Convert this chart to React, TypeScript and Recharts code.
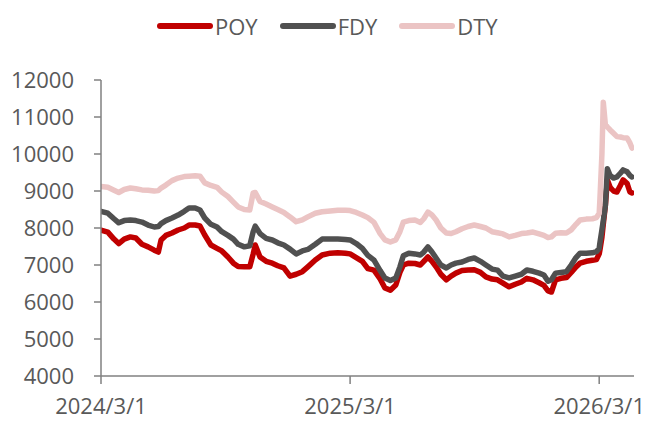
import React from 'react';
import { LineChart, Line, XAxis, YAxis, Legend } from 'recharts';

const dates = [
  '2024/3/1', '2024/3/11', '2024/3/20', '2024/3/27', '2024/4/4', '2024/4/13', '2024/4/21', '2024/4/30',
  '2024/5/9', '2024/5/18', '2024/5/24', '2024/5/28', '2024/6/4', '2024/6/13', '2024/6/22', '2024/7/1',
  '2024/7/8', '2024/7/17', '2024/7/24', '2024/7/31', '2024/8/9', '2024/8/18', '2024/8/25', '2024/9/3',
  '2024/9/11', '2024/9/18', '2024/9/27', '2024/10/5', '2024/10/10', '2024/10/13', '2024/10/20', '2024/10/29',
  '2024/11/7', '2024/11/15', '2024/11/24', '2024/12/3', '2024/12/12', '2024/12/21', '2024/12/29', '2025/1/9',
  '2025/1/19', '2025/1/31', '2025/2/11', '2025/2/22', '2025/3/1', '2025/3/10', '2025/3/19', '2025/3/27',
  '2025/4/5', '2025/4/14', '2025/4/21', '2025/4/29', '2025/5/7', '2025/5/13', '2025/5/18', '2025/5/26',
  '2025/6/4', '2025/6/12', '2025/6/17', '2025/6/23', '2025/6/29', '2025/7/5', '2025/7/12', '2025/7/20',
  '2025/7/27', '2025/8/3', '2025/8/12', '2025/8/21', '2025/8/30', '2025/9/8', '2025/9/16', '2025/9/25',
  '2025/10/3', '2025/10/11', '2025/10/20', '2025/10/29', '2025/11/7', '2025/11/15', '2025/11/24', '2025/12/3',
  '2025/12/10', '2025/12/16', '2025/12/21', '2025/12/27', '2026/1/4', '2026/1/12', '2026/1/19', '2026/1/26',
  '2026/2/1', '2026/2/10', '2026/2/19', '2026/2/25', '2026/3/1', '2026/3/2', '2026/3/5', '2026/3/7',
  '2026/3/10', '2026/3/13', '2026/3/17', '2026/3/22', '2026/3/27', '2026/4/1', '2026/4/5', '2026/4/11',
  '2026/4/15', '2026/4/18',
];

const poy = [
  7940, 7890, 7700, 7580, 7700, 7760, 7730, 7560,
  7490, 7400, 7350, 7676, 7800, 7865, 7946, 8000,
  8080, 8080, 8054, 7810, 7540, 7450, 7380, 7216,
  7050, 6960, 6950, 6950, 7300, 7540, 7216, 7100,
  7050, 6980, 6920, 6700, 6750, 6820, 6950, 7135,
  7270, 7320, 7330, 7320, 7300, 7200, 7100, 6900,
  6860, 6620, 6380, 6320, 6460, 6800, 7000, 7050,
  7040, 7000, 7100, 7216, 7100, 6950, 6750, 6600,
  6700, 6780, 6850, 6865, 6870, 6800, 6680, 6620,
  6600, 6510, 6410, 6480, 6540, 6640, 6600, 6520,
  6450, 6300, 6270, 6600, 6640, 6660, 6800, 6950,
  7050, 7100, 7130, 7150, 7300, 7400, 7750, 8100,
  8600, 9300, 9100, 9000, 8973, 9150, 9300, 9200,
  8973, 8950,
];

const fdy = [
  8450, 8400, 8250, 8140, 8200, 8216, 8200, 8160,
  8080, 8027, 8040, 8120, 8200, 8270, 8350, 8450,
  8540, 8540, 8486, 8270, 8100, 8027, 7900, 7800,
  7700, 7560, 7490, 7520, 7900, 8050, 7850, 7720,
  7676, 7600, 7540, 7430, 7300, 7380, 7420, 7560,
  7700, 7700, 7700, 7690, 7676, 7580, 7450, 7260,
  7130, 6850, 6650, 6580, 6650, 6950, 7250, 7320,
  7300, 7270, 7350, 7490, 7350, 7190, 7000, 6920,
  7000, 7050, 7080, 7150, 7190, 7100, 7000, 6890,
  6860, 6700, 6650, 6700, 6750, 6865, 6830, 6780,
  6730, 6560, 6600, 6780, 6800, 6820, 7000, 7200,
  7320, 7320, 7330, 7360, 7450, 7590, 7950, 8200,
  8600, 9600, 9420, 9350, 9380, 9480, 9570, 9520,
  9420, 9380,
];

const dty = [
  9120, 9100, 9020, 8960, 9040, 9080, 9060, 9030,
  9020, 9000, 9010, 9080, 9160, 9280, 9350, 9390,
  9400, 9410, 9400, 9220, 9150, 9100, 8970, 8850,
  8700, 8570, 8500, 8486, 8950, 8960, 8720, 8650,
  8570, 8500, 8420, 8300, 8170, 8220, 8300, 8400,
  8440, 8460, 8480, 8480, 8470, 8420, 8350, 8280,
  8150, 7850, 7680, 7620, 7680, 7900, 8160, 8200,
  8216, 8150, 8250, 8430, 8350, 8216, 8000, 7865,
  7850, 7900, 7980, 8040, 8080, 8040, 8000, 7900,
  7870, 7840, 7760, 7800, 7850, 7865, 7890, 7840,
  7800, 7740, 7760, 7860, 7870, 7865, 7950, 8100,
  8216, 8240, 8250, 8280, 8400, 8757, 10000, 11400,
  10800, 10730, 10650, 10560, 10470, 10460, 10440, 10430,
  10300, 10160,
];

const yTicks = [4000, 5000, 6000, 7000, 8000, 9000, 10000, 11000, 12000];
const xTickLabels = ['2024/3/1', '2025/3/1', '2026/3/1'];
const xStart = '2024/3/1';
const xEnd = '2026/4/21';

const toT = (s: string) => {
  const [y, m, d] = s.split('/').map(Number);
  return Date.UTC(y, m - 1, d);
};

const data = dates.map((d, i) => ({ t: toT(d), POY: poy[i], FDY: fdy[i], DTY: dty[i] }));
const xTicks = xTickLabels.map(toT);
const labelOf = (v: number) => {
  const i = xTicks.indexOf(v);
  return i >= 0 ? xTickLabels[i] : '';
};

const series = [
  { key: 'POY', color: '#C00000' },
  { key: 'FDY', color: '#505050' },
  { key: 'DTY', color: '#EBC4C4' },
];

const FONT = "'Open Sans', sans-serif";
const TEXT = '#595959';
const AXIS = '#808080';

const LegendContent = () => (
  <div style={{ display: 'flex', justifyContent: 'flex-start', paddingLeft: 157, height: 30, alignItems: 'center', fontFamily: FONT, fontSize: 22, color: TEXT }}>
    {series.map((s, i) => (
      <div key={s.key} style={{ display: 'flex', alignItems: 'center', marginRight: i < 2 ? 22 : 0 }}>
        <svg width={56} height={10} style={{ display: 'block' }}>
          <line x1={3} y1={5} x2={53} y2={5} stroke={s.color} strokeWidth={6} strokeLinecap="round" />
        </svg>
        <span style={{ marginLeft: 2, lineHeight: '30px' }}>{s.key}</span>
      </div>
    ))}
  </div>
);

export default function App() {
  return (
    <div style={{ position: 'absolute', left: 0, top: 0, width: 651, height: 421, background: '#fff' }}>
      <LineChart width={651} height={421} data={data} margin={{ top: 50, right: 17, bottom: 0, left: 0 }}>
        <Legend verticalAlign="top" align="left" content={<LegendContent />} wrapperStyle={{ top: 11, left: 0, width: 651 }} />
        <XAxis
          dataKey="t"
          type="number"
          scale="time"
          domain={[toT(xStart), toT(xEnd)]}
          ticks={xTicks}
          tickFormatter={labelOf}
          stroke={AXIS}
          strokeWidth={1.5}
          tickSize={8}
          tickMargin={14}
          tick={{ fill: TEXT, fontSize: 22, fontFamily: FONT }}
          interval={0}
          allowDataOverflow
          height={45}
        />
        <YAxis
          type="number"
          domain={[4000, 12000]}
          ticks={yTicks}
          stroke={AXIS}
          strokeWidth={1.5}
          tickSize={7}
          tickMargin={20}
          tick={{ fill: TEXT, fontSize: 22, fontFamily: FONT }}
          width={101}
          interval={0}
        />
        {series.map((s) => (
          <Line
            key={s.key}
            dataKey={s.key}
            type="linear"
            stroke={s.color}
            strokeWidth={5.5}
            strokeLinejoin="round"
            strokeLinecap="round"
            dot={false}
            activeDot={false}
            isAnimationActive={false}
          />
        ))}
      </LineChart>
    </div>
  );
}
